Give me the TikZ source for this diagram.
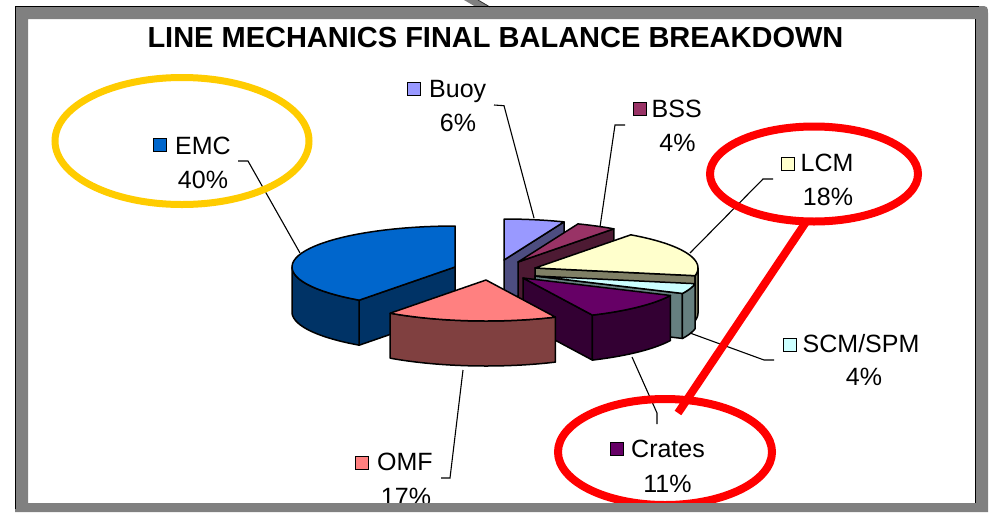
\documentclass[tikz,border=0pt]{standalone}
\usepackage{fontspec}
\setmainfont{Liberation Sans}
\usetikzlibrary{shapes.geometric}

% slice colours: top face / side face
\definecolor{emcTop}{HTML}{0066CC}
\definecolor{emcSide}{HTML}{003366}
\definecolor{omfTop}{HTML}{FF8080}
\definecolor{omfSide}{HTML}{804040}
\definecolor{crTop}{HTML}{660066}
\definecolor{crSide}{HTML}{330033}
\definecolor{scmTop}{HTML}{CCFFFF}
\definecolor{scmSide}{HTML}{668080}
\definecolor{lcmTop}{HTML}{FFFFCC}
\definecolor{lcmSide}{HTML}{808066}
\definecolor{bssTop}{HTML}{993366}
\definecolor{bssSide}{HTML}{4D1A33}
\definecolor{buoyTop}{HTML}{9999FF}
\definecolor{buoySide}{HTML}{4D4D80}
\definecolor{frameGray}{HTML}{808080}
\definecolor{ringGold}{HTML}{FFCC00}
\definecolor{ringRed}{HTML}{FF0000}

% pie geometry (pixels): horizontal / vertical semi-axes, thickness
\newcommand\pieRa{163}
\newcommand\pieRb{41}
\newcommand\pieDepth{45}

% top face of a slice: apex x, apex y, start angle, end angle (clockwise from back), colour
\newcommand\pieTop[5]{%
  \filldraw[piedge, fill=#5] (#1,#2) -- plot[domain=#3:#4, samples=40]
    ({#1+\pieRa*sin(\x)},{#2-\pieRb*cos(\x)}) -- cycle;}
% curved outer wall between two angles
\newcommand\pieRim[5]{%
  \filldraw[piedge, fill=#5]
    plot[domain=#3:#4, samples=40] ({#1+\pieRa*sin(\x)},{#2-\pieRb*cos(\x)})
    -- plot[domain=#4:#3, samples=40] ({#1+\pieRa*sin(\x)},{#2-\pieRb*cos(\x)+\pieDepth})
    -- cycle;}
% flat cut wall along one radius
\newcommand\pieCut[4]{%
  \filldraw[piedge, fill=#4] (#1,#2)
    -- ({#1+\pieRa*sin(#3)},{#2-\pieRb*cos(#3)})
    -- ({#1+\pieRa*sin(#3)},{#2-\pieRb*cos(#3)+\pieDepth})
    -- (#1,{#2+\pieDepth}) -- cycle;}

\tikzset{
  piedge/.style={draw=black, line width=1.5pt, line join=round},
  leader/.style={draw=black, line width=1.1pt},
  lbl/.style={inner sep=0pt, font=\fontsize{25}{30}\selectfont},
  keybox/.style={draw=black, line width=1pt, minimum size=13pt, inner sep=0pt},
  ring/.style={ellipse, inner sep=0pt, fill=none},
}

\begin{document}
\begin{tikzpicture}[x=1pt, y=-1pt]
\useasboundingbox (0,0) rectangle (990,512);
\fill[white] (0,0) rectangle (990,512);

% ---- exploded 3-D pie, back slices first ----
% Buoy
\pieCut{504}{260}{21.6}{buoySide}
\pieTop{504}{260}{0}{21.6}{buoyTop}
% BSS
\pieCut{518}{262}{36}{bssSide}
\pieTop{518}{262}{21.6}{36}{bssTop}
% LCM
\pieCut{535}{268}{100.8}{lcmSide}
\pieRim{535}{268}{90}{100.8}{lcmSide}
\pieTop{535}{268}{36}{100.8}{lcmTop}
% SCM/SPM
\pieCut{535}{276}{115.2}{scmSide}
\pieRim{535}{276}{100.8}{115.2}{scmSide}
\pieTop{535}{276}{100.8}{115.2}{scmTop}
% Crates
\pieCut{523}{278}{154.8}{crSide}
\pieRim{523}{278}{115.2}{154.8}{crSide}
\pieTop{523}{278}{115.2}{154.8}{crTop}
% EMC
\pieCut{455}{267}{216}{emcSide}
\pieRim{455}{267}{216}{270}{emcSide}
\pieTop{455}{267}{216}{360}{emcTop}
% OMF
\pieRim{486}{280}{154.8}{216}{omfSide}
\pieTop{486}{280}{154.8}{216}{omfTop}

% ---- title ----
\node[inner sep=0pt, font=\bfseries\fontsize{29}{34}\selectfont, anchor=base]
  (title) at (495.5,47) {LINE MECHANICS FINAL BALANCE BREAKDOWN};

% ---- data labels ----
\node[keybox, fill=emcTop] (emc-key) at (159.5,144.5) {};
\node[lbl, anchor=base west] (emc-name) at (175,154) {EMC};
\node[lbl, anchor=base] (emc-pct) at (203,188) {40\%};

\node[keybox, fill=buoyTop] (buoy-key) at (413.5,89) {};
\node[lbl, anchor=base west] (buoy-name) at (429,97) {Buoy};
\node[lbl, anchor=base] (buoy-pct) at (458,131.5) {6\%};

\node[keybox, fill=bssTop] (bss-key) at (639.5,109) {};
\node[lbl, anchor=base west] (bss-name) at (651.5,117.3) {BSS};
\node[lbl, anchor=base] (bss-pct) at (677.5,151.7) {4\%};

\node[keybox, fill=lcmTop] (lcm-key) at (787.5,163.5) {};
\node[lbl, anchor=base west] (lcm-name) at (800.5,171.7) {LCM};
\node[lbl, anchor=base] (lcm-pct) at (828,205) {18\%};

\node[keybox, fill=scmTop] (scm-key) at (790,345) {};
\node[lbl, anchor=base west] (scm-name) at (802.5,352.3) {SCM/SPM};
\node[lbl, anchor=base] (scm-pct) at (864,385) {4\%};

\node[keybox, fill=crTop] (crates-key) at (617,449) {};
\node[lbl, anchor=base west] (crates-name) at (631,457) {Crates};
\node[lbl, anchor=base] (crates-pct) at (667.5,492) {11\%};

\node[keybox, fill=omfTop] (omf-key) at (361.5,463) {};
\node[lbl, anchor=base west] (omf-name) at (377,470) {OMF};
\node[lbl, anchor=base] (omf-pct) at (406,505) {17\%};

% ---- leader lines ----
\coordinate (emc-l0) at (238,161);   \coordinate (emc-l1) at (300,253);
\coordinate (buoy-l0) at (494,105);  \coordinate (buoy-l1) at (534,218);
\coordinate (bss-l0) at (625,125);   \coordinate (bss-l1) at (600,227);
\coordinate (lcm-l0) at (773,179);   \coordinate (lcm-l1) at (690,253);
\coordinate (scm-l0) at (774,360);   \coordinate (scm-l1) at (690,333);
\coordinate (crates-l0) at (657,424); \coordinate (crates-l1) at (632,357);
\coordinate (omf-l0) at (441,478);   \coordinate (omf-l1) at (463,370);

\draw[leader] (emc-l0) -- ++(10,0) -- (emc-l1);
\draw[leader] (buoy-l0) -- ++(10,0.7) -- (buoy-l1);
\draw[leader] (bss-l0) -- ++(-10,0) -- (bss-l1);
\draw[leader] (lcm-l0) -- ++(-10,0) -- (lcm-l1);
\draw[leader] (scm-l0) -- ++(-10,0) -- (scm-l1);
\draw[leader] (crates-l0) -- ++(0,-11) -- (crates-l1);
\draw[leader] (omf-l0) -- ++(9,0) -- (omf-l1);

% ---- highlight rings ----
\node[ring, draw=ringGold, line width=7pt, minimum width=254pt, minimum height=127pt]
  (emc-ring) at (182,141) {};
\node[ring, draw=ringRed, line width=8pt, minimum width=208pt, minimum height=95pt]
  (lcm-ring) at (814,174) {};
\node[ring, draw=ringRed, line width=8pt, minimum width=214pt, minimum height=106pt]
  (crates-ring) at (665,452) {};
\coordinate (link-top) at (806,222);
\coordinate (link-end) at (678,413);
\draw[ringRed, line width=8pt] (link-top) -- (link-end);

% ---- slide frame ----
\fill[frameGray, even odd rule]
  (15,512) -- (15,6) -- (979,6) .. controls (988,6) .. (988,15) -- (988,512) -- cycle
  (28,19) rectangle (975,503);
\fill[frameGray] (464,0) -- (478,0) -- (490,7) -- (476,7) -- cycle;
\draw[black!80, line width=0.8pt] (478,0) -- (490,7);
\draw[black, line width=1.2pt] (15.5,509) -- (15.5,6.5) -- (979,6.5);
\draw[black, line width=1.2pt] (975.5,19) -- (975.5,503);
\end{tikzpicture}
\end{document}
